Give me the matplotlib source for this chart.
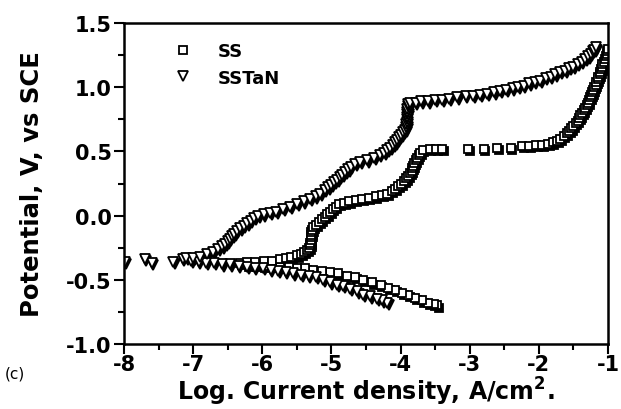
import numpy as np
import matplotlib
matplotlib.use("Agg")
import matplotlib.pyplot as plt
import matplotlib.transforms as mtransforms
from matplotlib.ticker import MultipleLocator

# ── data ─────────────────────────────────────────────────────────────────────
# SS: cathodic branch (from the far end back to Ecorr), then anodic branch
ss_logi = [
    -3.47, -3.52, -3.60, -3.69, -3.79, -3.89, -3.98, -4.08, -4.18, -4.29,
    -4.41, -4.54, -4.66, -4.77, -4.90, -5.02, -5.14, -5.26, -5.38, -5.50,
    -5.62, -5.74, -5.86, -5.98, -6.10, -6.22, -6.32,
    -6.22, -6.10, -5.98, -5.86, -5.75, -5.66, -5.58, -5.50, -5.44, -5.39,
    -5.35, -5.32, -5.31, -5.31, -5.30, -5.30, -5.29, -5.29, -5.28, -5.26,
    -5.22, -5.18, -5.14, -5.10, -5.06, -5.02, -4.98, -4.94, -4.89, -4.82,
    -4.74, -4.65, -4.56, -4.46, -4.36, -4.27, -4.19, -4.13, -4.08, -4.03,
    -3.99, -3.95, -3.92, -3.89, -3.86, -3.84, -3.83, -3.82, -3.80, -3.78,
    -3.76, -3.74, -3.72, -3.68, -3.58, -3.49, -3.40,
    -3.02, -2.80, -2.60, -2.41, -2.24, -2.14, -2.04, -1.95, -1.87, -1.80,
    -1.74, -1.69, -1.64, -1.60, -1.56, -1.53, -1.50, -1.47, -1.44, -1.42,
    -1.40, -1.37, -1.35, -1.33, -1.31, -1.29, -1.28, -1.26, -1.24, -1.23,
    -1.21, -1.20, -1.18, -1.17, -1.15, -1.14, -1.12, -1.11, -1.10, -1.09,
    -1.08, -1.06, -1.05, -1.03, -1.02, -1.01, -1.00,
]
ss_e = [
    -0.70, -0.69, -0.68, -0.66, -0.64, -0.62, -0.60, -0.58, -0.56, -0.54,
    -0.52, -0.50, -0.48, -0.47, -0.45, -0.44, -0.43, -0.42, -0.41, -0.41,
    -0.40, -0.40, -0.39, -0.39, -0.38, -0.38, -0.37,
    -0.36, -0.36, -0.35, -0.35, -0.34, -0.33, -0.32, -0.31, -0.30, -0.28,
    -0.27, -0.25, -0.23, -0.21, -0.19, -0.17, -0.15, -0.13, -0.11, -0.09,
    -0.07, -0.05, -0.03, -0.01, 0.01, 0.03, 0.05, 0.07, 0.09, 0.10,
    0.11, 0.12, 0.13, 0.14, 0.15, 0.16, 0.17, 0.19, 0.21, 0.23,
    0.25, 0.27, 0.29, 0.31, 0.33, 0.35, 0.37, 0.39, 0.41, 0.43,
    0.45, 0.47, 0.49, 0.51, 0.52, 0.52, 0.52,
    0.52, 0.52, 0.53, 0.53, 0.54, 0.54, 0.55, 0.55, 0.56, 0.57,
    0.58, 0.60, 0.62, 0.64, 0.66, 0.68, 0.70, 0.72, 0.74, 0.76,
    0.78, 0.80, 0.82, 0.84, 0.86, 0.88, 0.90, 0.92, 0.94, 0.96,
    0.98, 1.00, 1.02, 1.04, 1.06, 1.08, 1.10, 1.12, 1.14, 1.16,
    1.18, 1.20, 1.22, 1.24, 1.26, 1.28, 1.30,
]

# SSTaN: cathodic branch, noisy tail near Ecorr, then anodic branch
tan_logi = [
    -4.19, -4.27, -4.34, -4.44, -4.54, -4.63, -4.73, -4.83, -4.92, -5.02,
    -5.12, -5.22, -5.33, -5.44, -5.55, -5.66, -5.77, -5.88, -5.99, -6.11,
    -6.22, -6.34, -6.46, -6.58, -6.70, -6.81, -6.92, -7.03, -7.15,
    -7.29, -7.60, -7.70, -7.99,
    -7.10, -7.00, -6.90, -6.80, -6.71, -6.64, -6.58, -6.54, -6.50, -6.47,
    -6.44, -6.41, -6.37, -6.32, -6.27, -6.22, -6.17, -6.12, -6.06, -5.98,
    -5.89, -5.80, -5.70, -5.60, -5.50, -5.40, -5.31, -5.23, -5.16, -5.10,
    -5.05, -5.00, -4.96, -4.92, -4.88, -4.84, -4.80, -4.76, -4.72, -4.66,
    -4.58, -4.48, -4.38, -4.30, -4.24, -4.19, -4.15, -4.11, -4.08, -4.05,
    -4.02, -3.99, -3.96,
    -3.93, -3.92, -3.92, -3.91, -3.91, -3.91, -3.90, -3.90, -3.90, -3.89,
    -3.89,
    -3.86, -3.78, -3.70, -3.60, -3.50, -3.40, -3.30, -3.18, -3.06, -2.95,
    -2.85, -2.75, -2.65, -2.56, -2.47, -2.38, -2.30, -2.22, -2.14, -2.06,
    -1.98, -1.90, -1.83, -1.76, -1.69, -1.62, -1.56, -1.50, -1.44, -1.38,
    -1.33, -1.29, -1.25, -1.22, -1.20, -1.18,
]
tan_e = [
    -0.68, -0.66, -0.65, -0.63, -0.62, -0.59, -0.57, -0.55, -0.54, -0.52,
    -0.50, -0.48, -0.47, -0.46, -0.45, -0.44, -0.43, -0.42, -0.41, -0.41,
    -0.40, -0.39, -0.38, -0.38, -0.37, -0.37, -0.36, -0.35, -0.34,
    -0.36, -0.37, -0.34, -0.36,
    -0.33, -0.33, -0.32, -0.30, -0.28, -0.26, -0.24, -0.22, -0.20, -0.18,
    -0.16, -0.14, -0.12, -0.10, -0.08, -0.06, -0.04, -0.02, 0.00, 0.01,
    0.02, 0.03, 0.05, 0.07, 0.09, 0.11, 0.13, 0.15, 0.17, 0.20,
    0.22, 0.24, 0.26, 0.28, 0.30, 0.32, 0.34, 0.36, 0.38, 0.40,
    0.42, 0.43, 0.45, 0.47, 0.49, 0.51, 0.53, 0.55, 0.57, 0.59,
    0.61, 0.63, 0.65,
    0.67, 0.69, 0.71, 0.73, 0.75, 0.77, 0.79, 0.81, 0.83, 0.85,
    0.87,
    0.88, 0.88, 0.89, 0.89, 0.90, 0.90, 0.91, 0.92, 0.93, 0.93,
    0.94, 0.95, 0.96, 0.97, 0.98, 0.99, 1.00, 1.01, 1.03, 1.04,
    1.05, 1.07, 1.08, 1.10, 1.12, 1.13, 1.15, 1.16, 1.18, 1.20,
    1.22, 1.24, 1.26, 1.28, 1.29, 1.31,
]

plt.rcParams['axes.unicode_minus'] = False
plt.rcParams['font.family'] = ['DejaVu Sans']

fig = plt.figure(figsize=(6.21, 4.10), dpi=100)
ax = fig.add_axes([124 / 621, 1 - 345 / 410, 484 / 621, 321 / 410])

# dark "shadow" under the open symbols, like the dense scan points in the print
shadow = mtransforms.offset_copy(ax.transData, fig=fig, x=1.2, y=-1.6,
                                 units='points')
for xs, ys, mk, ms in [(ss_logi, ss_e, 's', 5.4), (tan_logi, tan_e, 'v', 7.0)]:
    ax.plot(xs, ys, linestyle='none', marker=mk, markersize=ms,
            markerfacecolor='black', markeredgecolor='black',
            markeredgewidth=1.3, transform=shadow)

ax.plot(ss_logi, ss_e, linestyle='none', marker='s', markersize=5.4,
        markerfacecolor='white', markeredgecolor='black',
        markeredgewidth=1.3, label='SS')
ax.plot(tan_logi, tan_e, linestyle='none', marker='v', markersize=7.0,
        markerfacecolor='white', markeredgecolor='black',
        markeredgewidth=1.3, label='SSTaN')

ax.set_xlim(-8, -1)
ax.set_ylim(-1.0, 1.5)
ax.xaxis.set_major_locator(MultipleLocator(1))
ax.xaxis.set_minor_locator(MultipleLocator(0.5))
ax.yaxis.set_major_locator(MultipleLocator(0.5))
ax.yaxis.set_minor_locator(MultipleLocator(0.25))
ax.xaxis.set_major_formatter(plt.FuncFormatter(lambda v, p: f'{v:.0f}'))
ax.yaxis.set_major_formatter(plt.FuncFormatter(lambda v, p: f'{v:.1f}'))

ax.tick_params(which='major', direction='out', length=7, width=1.5,
               labelsize=15, pad=2)
ax.tick_params(axis='x', which='major', pad=0.5)
ax.tick_params(which='minor', direction='out', length=4, width=1.5)
for lab in ax.get_xticklabels() + ax.get_yticklabels():
    lab.set_fontweight('bold')
for spine in ax.spines.values():
    spine.set_linewidth(1.8)

ax.set_xlabel('Log. Current density, A/cm$^\\mathbf{2}$.', fontsize=17,
              fontweight='bold', labelpad=0.5)
ax.set_ylabel('Potential, V, vs SCE', fontsize=17.5, fontweight='bold',
              labelpad=16)

ax.legend(loc='upper left', bbox_to_anchor=(0.06, 0.99), frameon=False,
          prop={'size': 13, 'weight': 'bold'}, handletextpad=1.2,
          labelspacing=0.45, handlelength=1.5)

fig.text(5 / 621, 1 - 374 / 410, '(c)', fontsize=11, va='center', ha='left')

fig.savefig('out.png', dpi=100)
